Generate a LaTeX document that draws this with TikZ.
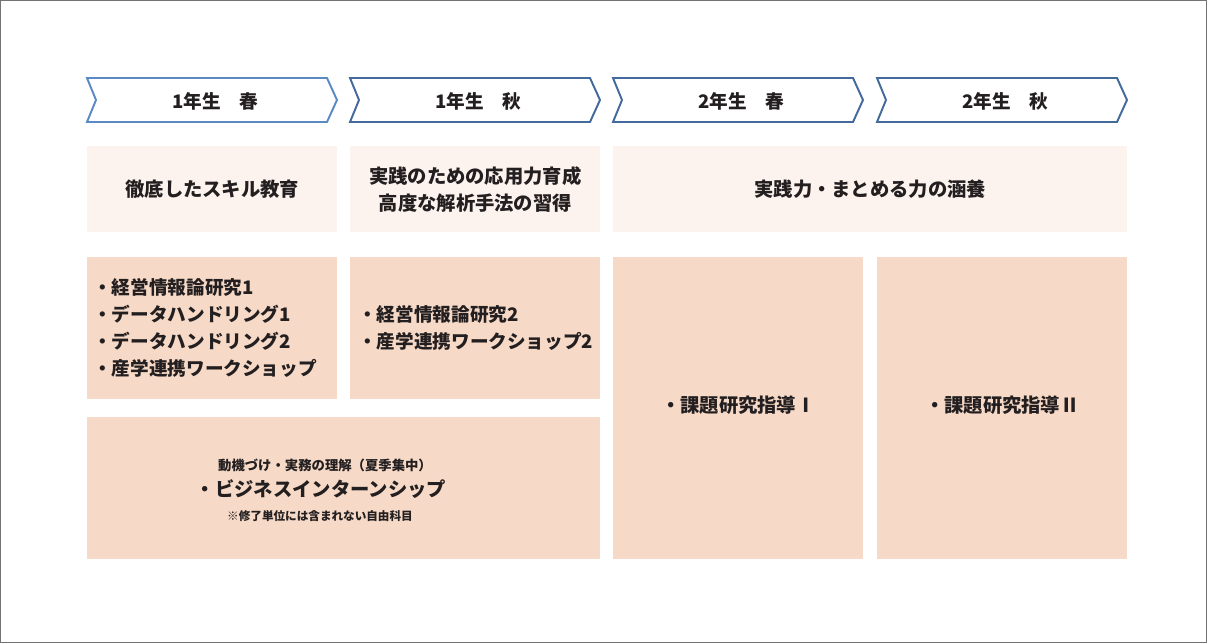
\documentclass[tikz,border=0pt]{standalone}
\usepackage{fontspec}
\setmainfont{Noto Sans CJK JP}
\definecolor{chevblue}{HTML}{44699B}
\definecolor{chevlight}{HTML}{5A89C4}
\definecolor{paleface}{HTML}{FDF3EE}
\definecolor{peachface}{HTML}{F6D9C6}
\definecolor{inktext}{HTML}{231F20}
\tikzset{
  chevron/.style={line width=1.1pt, draw=chevblue, fill=white, line join=miter},
  termlabel/.style={text=inktext, font=\bfseries\fontsize{10.6}{12}\selectfont, inner sep=0pt},
  palebox/.style={fill=paleface, inner sep=0pt, anchor=north west},
  peachbox/.style={fill=peachface, inner sep=0pt, anchor=north west},
  boxtext/.style={text=inktext, font=\bfseries\fontsize{11}{15.5}\selectfont, inner sep=0pt},
  listtext/.style={boxtext, font=\bfseries\fontsize{10.6}{15.4}\selectfont, anchor=west, align=left},
}
\begin{document}
\begin{tikzpicture}[x=0.02cm, y=-0.02cm]
    \useasboundingbox (0, 0) rectangle (1207, 643);
    \draw[line width=1.1pt, color=black!55] (0.5, 0.5) rectangle (1206.5, 642.5);
    % term chevrons
    \draw[chevron, draw=chevlight] (87, 78)--(327, 78)--(337, 100)--(327, 122)--(87, 122)--(96, 100)--cycle;
    \draw[chevron] (350, 78)--(590, 78)--(600, 100)--(590, 122)--(350, 122)--(359, 100)--cycle;
    \draw[chevron] (613, 78)--(853, 78)--(863, 100)--(853, 122)--(613, 122)--(622, 100)--cycle;
    \draw[chevron] (877, 78)--(1117, 78)--(1127, 100)--(1117, 122)--(877, 122)--(886, 100)--cycle;
    \node[termlabel] (spring1) at (215, 101) {1年生　春};
    \node[termlabel] (autumn1) at (478, 101) {1年生　秋};
    \node[termlabel] (spring2) at (741, 101) {2年生　春};
    \node[termlabel] (autumn2) at (1005, 101) {2年生　秋};
    % aims
    \node[palebox, minimum width=5cm, minimum height=1.72cm] (aim1) at (87, 146) {};
    \node[palebox, minimum width=5cm, minimum height=1.72cm] (aim2) at (350, 146) {};
    \node[palebox, minimum width=10.28cm, minimum height=1.72cm] (aim3) at (613, 146) {};
    \node[boxtext] at (aim1.center) {徹底したスキル教育};
    \node[boxtext, align=center] at (aim2.center) {実践のための応用力育成\\高度な解析手法の習得};
    \node[boxtext] at (aim3.center) {実践力・まとめる力の涵養};
    % courses
    \node[peachbox, minimum width=5cm, minimum height=2.84cm] (course1) at (87, 257) {};
    \node[peachbox, minimum width=5cm, minimum height=2.84cm] (course2) at (350, 257) {};
    \node[peachbox, minimum width=5cm, minimum height=6.04cm] (thesis1) at (613, 257) {};
    \node[peachbox, minimum width=5cm, minimum height=6.04cm] (thesis2) at (877, 257) {};
    \node[peachbox, minimum width=10.26cm, minimum height=2.84cm] (intern) at (87, 417) {};
    \node[listtext] at ([xshift=0.12cm]course1.west) {・経営情報論研究1\\・データハンドリング1\\・データハンドリング2\\・産学連携ワークショップ};
    \node[listtext] at ([xshift=0.16cm]course2.west) {・経営情報論研究2\\・産学連携ワークショップ2};
    \node[boxtext] at ([yshift=0.06cm]thesis1.center) {・課題研究指導Ⅰ};
    \node[boxtext] at ([yshift=0.06cm]thesis2.center) {・課題研究指導Ⅱ};
    \node[boxtext, font=\bfseries\fontsize{7.6}{9}\selectfont] (motive) at (325, 465) {動機づけ・実務の理解（夏季集中）};
    \node[boxtext] (internship) at (321, 489) {・ビジネスインターンシップ};
    \node[boxtext, font=\bfseries\fontsize{6.6}{8}\selectfont] (freenote) at (320, 516) {※修了単位には含まれない自由科目};
\end{tikzpicture}
\end{document}
